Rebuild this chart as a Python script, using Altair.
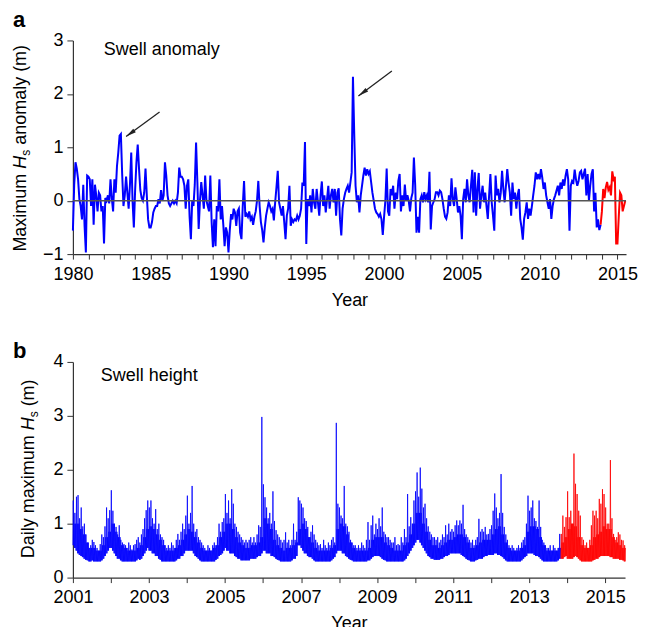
import altair as alt
import pandas as pd

FONT = "Liberation Sans"
BLUE = "#0000ff"
RED = "#ff0000"
AXIS_COLOR = "#333333"

# ---------------- Panel a: monthly maximum Hs anomaly (m), Jan 1980 onwards ----------------
anomaly_start_year = 1980
anomaly_values = [
    -0.56, 0.3, 0.72, 0.6, 0.4, 0.03, -0.1, -0.35, 0.3, -0.47, -0.97, 0.47,      # 1980
    0.45, 0.4, -0.1, 0.4, -0.45, 0.3, 0.1, -0.2, 0.15, 0.1, -0.2, -0.1,          # 1981
    -0.8, 0.05, 0.0, 0.1, -0.05, 0.4, 0.05, -0.2, 0.4, 0.15, 0.65, 0.9,          # 1982
    1.22, 1.25, 0.5, -0.1, 0.1, 0.45, 0.15, -0.15, 0.3, 0.9, 0.0, -0.5,          # 1983
    0.2, 0.72, 1.05, 0.6, 0.2, 0.05, 0.0, 0.15, 0.6, 0.1, -0.35, -0.5,           # 1984
    -0.5, -0.4, -0.22, -0.15, -0.1, -0.1, 0.03, -0.05, 0.2, 0.0, 0.1, 0.72,      # 1985
    0.47, 0.1, -0.05, -0.1, -0.05, 0.0, -0.05, 0.0, -0.05, 0.15, 0.62, 0.45,     # 1986
    0.45, 0.4, 0.28, -0.15, 0.28, 0.4, -0.3, -0.72, 0.0, -0.1, 0.3, 1.09,        # 1987
    0.35, -0.53, 0.0, 0.35, 0.1, -0.15, 0.47, 0.0, -0.1, -0.2, 0.47, -0.4,       # 1988
    -0.87, -0.35, -0.85, -0.1, -0.2, 0.4, -0.35, -0.1, -0.45, -0.85, -0.5, -0.6, # 1989
    -0.97, -0.55, -0.25, -0.35, -0.15, -0.22, -0.47, -0.2, -0.15, -0.6, -0.72, -0.1,  # 1990
    0.37, -0.3, -0.25, -0.3, -0.2, -0.35, -0.3, -0.45, -0.3, -0.2, 0.0, 0.37,    # 1991
    -0.1, -0.4, -0.55, -0.78, -0.5, -0.28, -0.15, -0.03, -0.1, -0.2, -0.15, -0.37,  # 1992
    -0.03, 0.25, 0.56, -0.03, -0.15, -0.28, -0.1, -0.4, -0.72, -0.28, -0.15, 0.28,  # 1993
    -0.47, -0.35, -0.4, -0.35, -0.37, -0.28, -0.35, -0.28, -0.15, 0.34, 0.28, 1.1,  # 1994
    -0.81, 0.03, -0.1, 0.1, -0.22, 0.22, -0.03, -0.15, 0.22, -0.03, -0.28, 0.1,  # 1995
    0.36, -0.1, 0.1, -0.22, 0.03, 0.28, -0.15, 0.1, 0.22, -0.03, 0.22, -0.28,    # 1996
    0.15, 0.23, -0.35, -0.65, -0.15, 0.03, 0.15, 0.22, 0.28, 0.15, 0.34, 0.53,   # 1997
    2.32, 1.23, 0.28, -0.03, 0.1, -0.22, 0.1, 0.28, 0.47, 0.62, 0.47, 0.59,      # 1998
    0.5, 0.55, 0.35, 0.15, 0.0, -0.15, -0.22, -0.25, -0.3, -0.25, -0.35, -0.64,  # 1999
    -0.3, 0.0, 0.6, -0.2, -0.28, 0.22, 0.1, 0.28, -0.15, 0.15, 0.03, 0.37,       # 2000
    0.5, -0.2, 0.1, -0.1, 0.3, 0.0, 0.1, 0.0, -0.2, 0.05, 0.15, 0.81,            # 2001
    0.29, -0.6, -0.3, -0.6, 0.03, 0.1, -0.03, 0.16, 0.03, 0.1, -0.03, 0.54,      # 2002
    -0.54, -0.1, -0.03, 0.03, 0.16, 0.16, 0.1, 0.19, 0.16, 0.03, -0.15, -0.3,    # 2003
    -0.34, -0.22, 0.1, -0.1, 0.42, 0.03, -0.1, 0.25, 0.03, -0.22, -0.1, -0.28,   # 2004
    -0.72, 0.03, 0.22, -0.03, 0.4, 0.1, -0.03, 0.28, 0.58, -0.22, 0.53, -0.28,   # 2005
    0.22, 0.52, -0.15, 0.1, 0.28, -0.03, 0.15, -0.1, -0.34, 0.1, 0.5, -0.03,     # 2006
    -0.28, -0.56, 0.47, 0.1, 0.22, -0.03, 0.15, 0.56, 0.22, -0.03, 0.28, 0.59,   # 2007
    0.34, 0.15, -0.28, 0.34, 0.03, 0.15, -0.15, 0.1, 0.22, -0.34, -0.5, -0.73,   # 2008
    -0.34, -0.22, -0.03, -0.34, -0.15, -0.28, -0.1, 0.1, 0.28, 0.53, 0.4, 0.5,   # 2009
    0.4, 0.59, 0.43, 0.22, 0.34, 0.1, -0.03, -0.15, 0.03, -0.34, -0.1, 0.03,     # 2010
    0.1, 0.19, 0.28, 0.1, 0.34, 0.22, 0.4, 0.28, 0.47, 0.59, 0.4, -0.56,         # 2011
    0.28, 0.37, 0.34, 0.58, 0.4, 0.28, 0.37, 0.53, 0.56, 0.4, 0.5, 0.6,          # 2012
    0.1, 0.5, 0.0, 0.28, 0.5, 0.59, -0.2, 0.15, -0.5, -0.35, -0.55, -0.45,       # 2013
    -0.2, 0.22, 0.05, 0.25, 0.35, 0.2, 0.25, 0.1, 0.55, 0.4, 0.45, -0.8,         # 2014
    -0.8, -0.3, 0.15, 0.1, -0.2, -0.1, 0.0,                                      # 2015
]
anomaly_red_from = 2013 + 11 / 12   # red part of the record starts Dec 2013

arrow_tail_year = [1985.57, 2000.5]
arrow_tail_value = [1.66, 2.43]
arrow_head_year = [1983.42, 1998.35]
arrow_head_value = [1.2, 1.96]

a_year_ticks = list(range(1980, 2016))
a_value_ticks = [-1, 0, 1, 2, 3]

# ---------------- Panel b: daily maximum Hs (m) ----------------
# read per half-month: spike maxima and troughs; per month: top of the dense band
swell_start_year = 2001
swell_high = [
    1.43, 1.2, 1.5, 1.53, 1.1, 1.3, 0.95, 1.0, 0.8, 0.65, 0.55, 0.6, 0.7, 0.66, 0.6, 0.55, 0.5, 0.62, 0.8, 0.75, 0.95, 1.3, 1.1, 1.25,  # 2001
    1.62, 1.24, 1.0, 0.94, 0.8, 0.97, 0.7, 0.65, 0.62, 0.6, 0.55, 0.65, 0.6, 0.52, 0.6, 0.62, 0.7, 0.75, 0.65, 0.8, 0.9, 1.1, 1.25, 1.43,  # 2002
    1.3, 1.43, 1.1, 1.0, 1.27, 0.9, 1.0, 0.8, 0.75, 0.7, 0.6, 0.55, 0.6, 0.55, 0.65, 0.6, 0.55, 0.7, 0.81, 0.7, 0.85, 1.0, 0.9, 1.15,  # 2003
    1.52, 1.0, 1.2, 1.7, 1.0, 0.85, 0.9, 0.75, 0.7, 0.65, 0.6, 0.55, 0.5, 0.6, 0.55, 0.5, 0.6, 0.65, 0.6, 0.75, 1.0, 0.85, 1.03, 1.1,  # 2004
    1.55, 1.2, 1.43, 1.1, 1.64, 1.37, 1.0, 0.94, 0.85, 0.8, 0.75, 0.7, 0.65, 0.7, 0.65, 0.7, 0.75, 0.65, 0.75, 0.65, 0.8, 0.97, 0.94, 2.98,  # 2005
    1.73, 1.49, 1.3, 1.1, 1.2, 1.0, 1.6, 1.05, 0.88, 0.8, 0.75, 0.7, 0.65, 0.7, 0.84, 0.65, 0.7, 0.6, 0.7, 1.0, 0.7, 0.85, 1.49, 1.43,  # 2006
    1.37, 1.3, 1.1, 1.05, 0.94, 0.75, 0.85, 0.97, 0.8, 0.7, 0.65, 0.6, 0.62, 0.55, 0.7, 0.6, 0.55, 0.65, 0.6, 0.7, 0.75, 0.65, 2.87, 1.37,  # 2007
    1.3, 1.15, 1.1, 1.7, 1.0, 0.95, 0.85, 0.7, 0.65, 0.6, 0.6, 0.55, 0.6, 0.55, 0.65, 0.6, 0.55, 0.7, 1.03, 0.7, 0.97, 1.15, 0.8, 1.0,  # 2008
    0.9, 1.1, 0.95, 1.3, 0.85, 0.8, 0.75, 0.75, 0.7, 0.65, 0.65, 0.75, 0.6, 0.62, 0.6, 0.75, 0.65, 0.9, 0.75, 1.55, 0.95, 1.12, 1.0, 1.43,  # 2009
    1.6, 1.95, 1.5, 2.04, 1.65, 1.3, 1.37, 1.1, 0.95, 0.85, 0.8, 0.75, 0.75, 0.7, 0.75, 0.65, 0.7, 0.8, 0.75, 0.97, 0.8, 1.0, 0.85, 0.9,  # 2010
    0.85, 0.97, 1.06, 0.97, 1.06, 1.0, 1.35, 0.9, 0.8, 0.75, 0.7, 0.65, 0.7, 0.6, 0.7, 0.75, 1.09, 0.85, 0.9, 0.85, 0.94, 0.8, 0.81, 0.9,  # 2011
    0.97, 1.24, 1.56, 1.3, 1.1, 1.2, 1.92, 1.2, 0.94, 0.8, 0.7, 0.6, 0.55, 0.6, 0.55, 0.5, 0.55, 0.6, 0.55, 0.65, 0.7, 0.75, 1.0, 1.52,  # 2012
    1.24, 1.3, 1.43, 1.1, 1.05, 0.94, 1.43, 0.94, 0.7, 0.65, 0.6, 0.55, 0.55, 0.6, 0.5, 0.6, 0.55, 0.5, 0.55, 0.81, 0.81, 1.15, 0.94, 1.12,  # 2013
    1.6, 1.12, 1.24, 1.0, 2.3, 1.74, 1.55, 1.24, 1.15, 0.75, 0.7, 0.6, 0.65, 0.55, 0.7, 0.97, 1.24, 1.15, 1.24, 1.1, 1.46, 1.37, 1.64, 1.55,  # 2014
    1.3, 1.0, 1.0, 2.18, 1.1, 0.81, 0.7, 0.75, 0.84, 0.8, 0.7, 0.69, 0.6,  # 2015
]
swell_low = [
    0.6, 0.55, 0.5, 0.45, 0.42, 0.4, 0.38, 0.35, 0.33, 0.32, 0.3, 0.3, 0.32, 0.3, 0.3, 0.3, 0.3, 0.3, 0.32, 0.35, 0.4, 0.45, 0.5, 0.55,  # 2001
    0.55, 0.5, 0.45, 0.4, 0.35, 0.35, 0.32, 0.3, 0.3, 0.3, 0.3, 0.3, 0.3, 0.3, 0.3, 0.3, 0.32, 0.35, 0.33, 0.35, 0.4, 0.45, 0.5, 0.55,  # 2002
    0.5, 0.5, 0.45, 0.45, 0.4, 0.4, 0.35, 0.33, 0.3, 0.3, 0.3, 0.3, 0.3, 0.3, 0.3, 0.3, 0.3, 0.32, 0.35, 0.35, 0.4, 0.4, 0.45, 0.5,  # 2003
    0.5, 0.5, 0.5, 0.5, 0.45, 0.4, 0.38, 0.35, 0.32, 0.3, 0.3, 0.3, 0.3, 0.3, 0.3, 0.3, 0.3, 0.3, 0.33, 0.35, 0.4, 0.42, 0.45, 0.5,  # 2004
    0.55, 0.5, 0.5, 0.45, 0.45, 0.45, 0.4, 0.38, 0.35, 0.35, 0.32, 0.32, 0.32, 0.32, 0.32, 0.32, 0.35, 0.35, 0.35, 0.35, 0.38, 0.4, 0.4, 0.45,  # 2005
    0.5, 0.5, 0.45, 0.45, 0.45, 0.4, 0.4, 0.38, 0.35, 0.33, 0.32, 0.3, 0.3, 0.3, 0.3, 0.3, 0.3, 0.3, 0.32, 0.35, 0.35, 0.4, 0.6, 0.6,  # 2006
    0.55, 0.5, 0.45, 0.45, 0.4, 0.38, 0.38, 0.35, 0.32, 0.3, 0.3, 0.3, 0.3, 0.3, 0.3, 0.3, 0.3, 0.3, 0.3, 0.32, 0.35, 0.38, 0.45, 0.5,  # 2007
    0.5, 0.5, 0.45, 0.45, 0.4, 0.38, 0.35, 0.33, 0.32, 0.3, 0.3, 0.3, 0.3, 0.3, 0.3, 0.3, 0.3, 0.3, 0.32, 0.32, 0.35, 0.38, 0.4, 0.4,  # 2008
    0.4, 0.4, 0.38, 0.35, 0.33, 0.32, 0.3, 0.3, 0.3, 0.3, 0.3, 0.3, 0.3, 0.3, 0.3, 0.3, 0.3, 0.32, 0.35, 0.4, 0.45, 0.5, 0.55, 0.6,  # 2009
    0.65, 0.7, 0.7, 0.65, 0.6, 0.55, 0.5, 0.45, 0.4, 0.38, 0.35, 0.35, 0.33, 0.33, 0.33, 0.33, 0.35, 0.35, 0.38, 0.4, 0.4, 0.42, 0.45, 0.45,  # 2010
    0.45, 0.45, 0.45, 0.45, 0.45, 0.42, 0.4, 0.38, 0.35, 0.33, 0.32, 0.3, 0.3, 0.3, 0.32, 0.33, 0.35, 0.35, 0.35, 0.38, 0.4, 0.4, 0.42, 0.42,  # 2011
    0.42, 0.42, 0.45, 0.45, 0.42, 0.42, 0.4, 0.38, 0.35, 0.32, 0.3, 0.3, 0.3, 0.3, 0.3, 0.3, 0.3, 0.3, 0.3, 0.32, 0.35, 0.38, 0.4, 0.45,  # 2012
    0.45, 0.45, 0.45, 0.42, 0.4, 0.4, 0.38, 0.35, 0.32, 0.3, 0.3, 0.3, 0.3, 0.3, 0.3, 0.3, 0.3, 0.3, 0.32, 0.35, 0.35, 0.35, 0.38, 0.4,  # 2013
    0.35, 0.35, 0.35, 0.35, 0.38, 0.4, 0.38, 0.35, 0.32, 0.3, 0.3, 0.3, 0.3, 0.3, 0.3, 0.3, 0.32, 0.33, 0.35, 0.35, 0.38, 0.4, 0.4, 0.4,  # 2014
    0.4, 0.4, 0.4, 0.38, 0.38, 0.35, 0.35, 0.35, 0.35, 0.33, 0.33, 0.32, 0.3,  # 2015
]
swell_band_top = [
    1.0, 1.0, 0.9, 0.8, 0.65, 0.55, 0.55, 0.5, 0.5, 0.6, 0.75, 0.85,   # 2001
    1.0, 0.85, 0.75, 0.6, 0.55, 0.5, 0.5, 0.5, 0.55, 0.6, 0.75, 0.9,   # 2002
    0.95, 0.9, 0.8, 0.7, 0.6, 0.5, 0.5, 0.5, 0.55, 0.6, 0.7, 0.8,      # 2003
    0.9, 0.85, 0.75, 0.65, 0.55, 0.5, 0.5, 0.5, 0.55, 0.6, 0.75, 0.85, # 2004
    1.0, 1.0, 0.9, 0.75, 0.65, 0.6, 0.55, 0.55, 0.6, 0.6, 0.65, 0.75,  # 2005
    1.1, 1.0, 0.9, 0.7, 0.6, 0.55, 0.5, 0.55, 0.55, 0.6, 0.65, 0.9,    # 2006
    1.0, 0.9, 0.75, 0.65, 0.55, 0.5, 0.5, 0.5, 0.5, 0.55, 0.6, 0.9,    # 2007
    1.0, 0.95, 0.8, 0.65, 0.55, 0.5, 0.5, 0.5, 0.5, 0.55, 0.7, 0.75,   # 2008
    0.75, 0.75, 0.65, 0.6, 0.55, 0.5, 0.5, 0.5, 0.6, 0.65, 0.8, 1.0,   # 2009
    1.2, 1.2, 1.0, 0.85, 0.7, 0.6, 0.6, 0.55, 0.6, 0.65, 0.7, 0.7,     # 2010
    0.75, 0.8, 0.8, 0.75, 0.65, 0.55, 0.55, 0.6, 0.65, 0.7, 0.7, 0.7,  # 2011
    0.8, 0.9, 0.95, 0.8, 0.65, 0.55, 0.5, 0.5, 0.5, 0.55, 0.6, 0.85,   # 2012
    0.95, 0.95, 0.9, 0.75, 0.6, 0.5, 0.5, 0.5, 0.5, 0.55, 0.65, 0.75,  # 2013
    0.9, 1.0, 0.95, 0.75, 0.6, 0.55, 0.55, 0.6, 0.75, 0.8, 0.85, 0.95, # 2014
    0.9, 0.9, 0.75, 0.65, 0.6, 0.55, 0.55,                             # 2015
]
swell_red_from = 2013 + 20 / 24   # red part starts early Nov 2013

b_year_ticks = list(range(2001, 2016))
b_value_ticks = [0, 1, 2, 3, 4]

# ---------------- tables ----------------
a_t = [anomaly_start_year + i / 12 for i in range(len(anomaly_values))]
df_a = pd.DataFrame({"t": a_t, "v": anomaly_values})
df_a_blue = df_a[df_a["t"] <= anomaly_red_from + 1e-9]
df_a_red = df_a[df_a["t"] >= anomaly_red_from - 1e-9]

df_arrows = pd.DataFrame({
    "tx": arrow_tail_year, "ty": arrow_tail_value,
    "hx": arrow_head_year, "hy": arrow_head_value,
})

b_t, b_v = [], []
for k, (lo, hi) in enumerate(zip(swell_low, swell_high)):
    t0 = swell_start_year + k / 24
    band = swell_band_top[k // 2]
    b_t += [t0, t0 + 1 / 96, t0 + 2 / 96, t0 + 3 / 96]
    b_v += [lo, hi, lo, band]
df_b = pd.DataFrame({"t": b_t, "v": b_v})
df_b_blue = df_b[df_b["t"] <= swell_red_from + 1e-9]
df_b_red = df_b[df_b["t"] >= swell_red_from - 1e-9]


def text_layer(label, x, y, size=18, weight="normal", style="normal", angle=0):
    mark = dict(align="left", baseline="alphabetic", font=FONT, fontSize=size,
                fontWeight=weight, fontStyle=style, color="black")
    if angle:
        mark["angle"] = angle
    return alt.Chart(pd.DataFrame({"label": [label]})).mark_text(**mark).encode(
        text="label:N", x=alt.value(x), y=alt.value(y)
    )


# ---------------- panel a ----------------
a_xscale = alt.Scale(domain=[1980, 2015.55], nice=False, zero=False)
a_yscale = alt.Scale(domain=[-1, 3], nice=False, zero=False)
a_xaxis = alt.Axis(values=a_year_ticks, format="d",
                   labelExpr="datum.value % 5 == 0 ? datum.label : ''",
                   title="Year", labelFlush=False, labelOverlap=False)
a_yaxis = alt.Axis(values=a_value_ticks, format="d", title=None, tickSize=6,
                   labelPadding=4, labelOverlap=False)


def ax(field):
    return alt.X(field, scale=a_xscale, axis=a_xaxis)


def ay(field):
    return alt.Y(field, scale=a_yscale, axis=a_yaxis)


a_blue = alt.Chart(df_a_blue).mark_line(color=BLUE, strokeWidth=2).encode(x=ax("t:Q"), y=ay("v:Q"))
a_red = alt.Chart(df_a_red).mark_line(color=RED, strokeWidth=2).encode(x=ax("t:Q"), y=ay("v:Q"))
a_zero = alt.Chart(pd.DataFrame({"v": [0]})).mark_rule(color="#555555", strokeWidth=1.4).encode(y=ay("v:Q"))
a_arrow_lines = alt.Chart(df_arrows).mark_rule(color="#222222", strokeWidth=1.3).encode(
    x=ax("tx:Q"), y=ay("ty:Q"), x2="hx:Q", y2="hy:Q"
)
a_arrow_heads = alt.Chart(df_arrows).mark_point(
    shape="M0,-1L0.42,1L-0.42,1Z", filled=True, color="#222222", opacity=1,
    size=110, angle=234, xOffset=4.2, yOffset=-3.1, strokeWidth=0,
).encode(x=ax("hx:Q"), y=ay("hy:Q"))

panel_a = alt.layer(
    a_blue, a_red, a_zero, a_arrow_lines, a_arrow_heads,
    text_layer("Swell anomaly", 31, 15),
    text_layer("a", -60, -13, size=22, weight="bold"),
    text_layer("Maximum", -47, 211.5, angle=270),
    text_layer("H", -47, 128.5, style="italic", angle=270),
    text_layer("s", -43, 115.5, size=12, angle=270),
    text_layer("anomaly (m)", -47, 104.5, angle=270),
).properties(width=554, height=214)

# ---------------- panel b ----------------
b_xscale = alt.Scale(domain=[2001, 2015.52], nice=False, zero=False)
b_yscale = alt.Scale(domain=[0, 4], nice=False, zero=False)
b_xaxis = alt.Axis(values=b_year_ticks, format="d",
                   labelExpr="datum.value % 2 == 1 ? datum.label : ''",
                   title="Year", labelFlush=False, labelOverlap=False)
b_yaxis = alt.Axis(values=b_value_ticks, format="d", title=None, tickSize=6,
                   labelPadding=4, labelOverlap=False)

b_blue = alt.Chart(df_b_blue).mark_line(color=BLUE, strokeWidth=0.8).encode(
    x=alt.X("t:Q", scale=b_xscale, axis=b_xaxis), y=alt.Y("v:Q", scale=b_yscale, axis=b_yaxis))
b_red = alt.Chart(df_b_red).mark_line(color=RED, strokeWidth=0.8).encode(
    x=alt.X("t:Q", scale=b_xscale, axis=b_xaxis), y=alt.Y("v:Q", scale=b_yscale, axis=b_yaxis))

panel_b = alt.layer(
    b_blue, b_red,
    text_layer("Swell height", 28, 19),
    text_layer("b", -60, -4, size=22, weight="bold"),
    text_layer("Daily maximum", -39, 196.5, angle=270),
    text_layer("H", -39, 68.5, style="italic", angle=270),
    text_layer("s", -35, 55.5, size=12, angle=270),
    text_layer("(m)", -39, 44.5, angle=270),
).properties(width=553, height=216)

chart = (
    alt.vconcat(panel_a, panel_b, spacing=31)
    .properties(padding={"left": 3, "top": 1, "right": 0, "bottom": 5})
    .configure_view(stroke=None)
    .configure_axis(
        grid=False, labelOverlap=False,
        labelFont=FONT, labelFontSize=18, labelColor="black",
        titleFont=FONT, titleFontSize=18, titleFontWeight="normal", titleColor="black",
        domainColor=AXIS_COLOR, domainWidth=1.2, tickColor=AXIS_COLOR, tickWidth=1,
    )
    .configure_axisX(tickSize=5, labelPadding=6, titlePadding=8)
)

chart.save("out.html", embed_options={"renderer": "svg", "actions": False})
